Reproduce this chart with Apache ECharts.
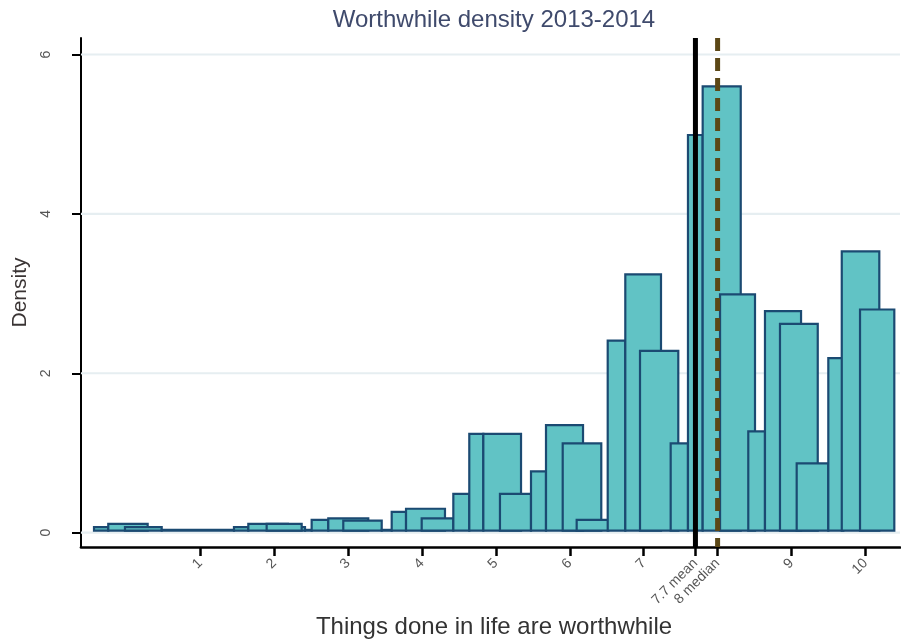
<!DOCTYPE html>
<html><head><meta charset="utf-8">
<script src="https://cdn.jsdelivr.net/npm/echarts@6/dist/echarts.min.js"></script>
<style>html,body{margin:0;padding:0;background:#fff}#c{width:901px;height:644px}</style>
</head><body><div id="c"></div>
<script>
// Bars in drawing order (later bars overlap earlier ones)
const barStart  = [-0.438, -0.245, -0.019, 0.478, 1.456, 1.650, 2.214, 1.898, 2.417, 2.507, 2.732, 2.935, 3.455, 3.590, 3.784, 3.996,
                   4.424, 4.640, 4.830, 5.055, 5.475, 5.678, 5.904, 6.093, 6.513, 6.751, 6.950, 7.365, 7.599, 7.798, 8.033, 8.415,
                   8.641, 8.844, 9.070, 9.498, 9.680, 9.927];
const barEnd    = [-0.245, 0.288, 0.478, 1.456, 1.650, 2.187, 2.417, 2.372, 2.507, 2.732, 3.273, 3.455, 3.590, 3.784, 4.311, 4.424,
                   4.640, 4.830, 5.340, 5.475, 5.678, 6.179, 6.426, 6.521, 6.751, 7.234, 7.468, 7.599, 7.798, 8.313, 8.506, 8.641,
                   9.129, 9.355, 9.498, 9.701, 10.188, 10.391];
const barHeight = [0.07, 0.11, 0.07, 0.035, 0.07, 0.11, 0.07, 0.11, 0.035, 0.16, 0.18, 0.15, 0.035, 0.26, 0.30, 0.18,
                   0.486, 1.24, 1.24, 0.486, 0.77, 1.35, 1.12, 0.16, 2.41, 3.24, 2.28, 1.12, 4.99, 5.60, 2.99, 1.27,
                   2.78, 2.62, 0.87, 2.19, 3.53, 2.80];
const barBase = 0.025;

const xTicks = [1, 2, 3, 4, 5, 6, 7, 7.7, 8, 9, 10];
const xTickLabels = ['1', '2', '3', '4', '5', '6', '7', '7.7 mean', '8 median', '9', '10'];
const yTicks = [0, 2, 4, 6];
const meanValue = 7.7;
const medianValue = 8;
const xRange = [-0.614, 10.468];
const yRange = [-0.18, 6.207];

const chart = echarts.init(document.getElementById('c'), null, {renderer: 'canvas'});
const font = 'Liberation Sans, Arial, sans-serif';

const gridSeries = yTicks.map(v => ({
  type: 'line', z: 1, silent: true, symbol: 'none',
  data: [[xRange[0], v], [xRange[1], v]],
  lineStyle: {color: '#e6eef1', width: 2.2}
}));

chart.setOption({
  animation: false,
  backgroundColor: '#ffffff',
  title: {
    text: 'Worthwhile density 2013-2014',
    left: 489, top: 3, textAlign: 'center',
    textStyle: {fontFamily: font, fontSize: 24, fontWeight: 'normal', color: '#3f4a6c'}
  },
  grid: {left: 81, right: 1, top: 38, bottom: 97, containLabel: false, outerBoundsMode: 'none'},
  xAxis: {
    type: 'value', min: xRange[0], max: xRange[1],
    name: 'Things done in life are worthwhile',
    nameLocation: 'middle', nameGap: 68,
    nameTextStyle: {fontFamily: font, fontSize: 24, color: '#333333', padding: [0, 0, 0, 7]},
    axisLine: {show: true, onZero: false, lineStyle: {color: '#000', width: 2.7}},
    axisTick: {show: true, customValues: xTicks, length: 9, lineStyle: {color: '#000', width: 2.5}},
    axisLabel: {
      show: true, customValues: xTicks, rotate: 45, margin: 14,
      fontFamily: font, fontSize: 14, color: '#555',
      formatter: function (v) {
        const i = xTicks.findIndex(t => Math.abs(t - v) < 1e-6);
        return i >= 0 ? xTickLabels[i] : '';
      }
    },
    splitLine: {show: false}
  },
  yAxis: {
    type: 'value', min: yRange[0], max: yRange[1],
    name: 'Density', nameLocation: 'middle', nameGap: 47, nameRotate: 90,
    nameTextStyle: {fontFamily: font, fontSize: 21, color: '#3a3434'},
    axisLine: {show: true, onZero: false, lineStyle: {color: '#000', width: 2}},
    axisTick: {show: true, customValues: yTicks, length: 9, lineStyle: {color: '#000', width: 2}},
    axisLabel: {show: true, customValues: yTicks, rotate: 90, margin: 28, fontFamily: font, fontSize: 14, color: '#555'},
    splitLine: {show: false}
  },
  series: gridSeries.concat([
    {
      type: 'custom', z: 3, clip: false,
      encode: {x: [0, 1], y: 2},
      data: barStart.map((s, i) => [s, barEnd[i], barHeight[i]]),
      renderItem: function (params, api) {
        const p0 = api.coord([api.value(0), api.value(2)]);
        const p1 = api.coord([api.value(1), barBase]);
        return {
          type: 'rect',
          shape: {x: p0[0], y: p0[1], width: p1[0] - p0[0], height: p1[1] - p0[1]},
          style: {fill: '#61c3c5', stroke: '#1b4a72', lineWidth: 2.2}
        };
      }
    },
    {
      type: 'line', z: 4, silent: true, symbol: 'none',
      data: [[meanValue, yRange[1]], [meanValue, yRange[0]]],
      lineStyle: {color: '#000000', width: 5}
    },
    {
      type: 'line', z: 4, silent: true, symbol: 'none',
      data: [[medianValue, yRange[1]], [medianValue, yRange[0]]],
      lineStyle: {color: '#5b4716', width: 5, type: [13, 7]}
    }
  ])
});
</script></body></html>
